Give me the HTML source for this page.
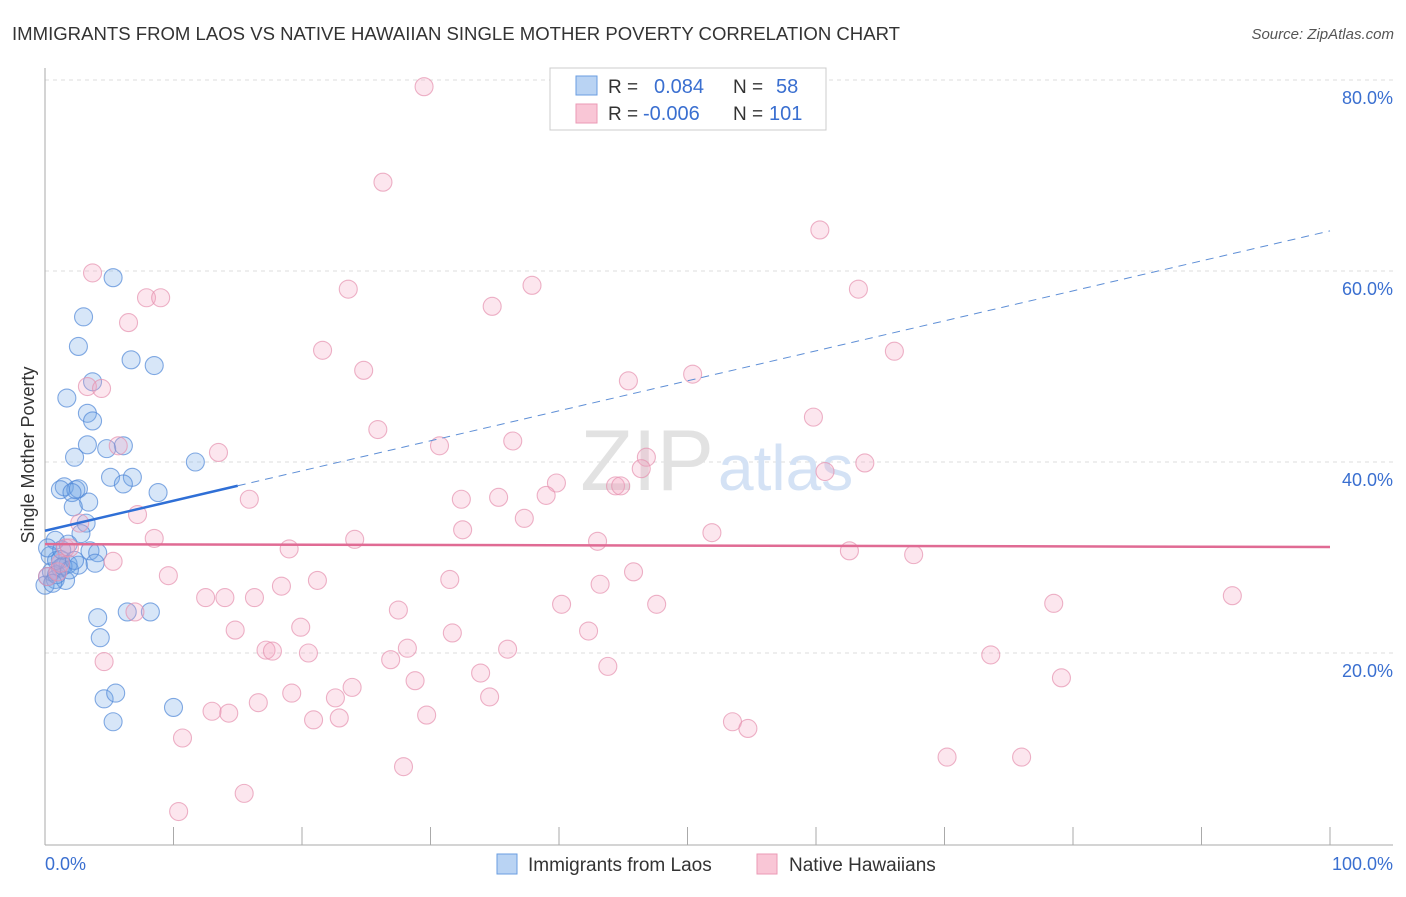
<!DOCTYPE html>
<html><head><meta charset="utf-8"><style>
body{margin:0;background:#fff;font-family:"Liberation Sans",sans-serif;}
svg text{font-family:"Liberation Sans",sans-serif;}
</style></head><body>
<svg width="1406" height="892" viewBox="0 0 1406 892">
<text x="12" y="40" font-size="18" fill="#333" textLength="888" lengthAdjust="spacingAndGlyphs">IMMIGRANTS FROM LAOS VS NATIVE HAWAIIAN SINGLE MOTHER POVERTY CORRELATION CHART</text>
<text x="1394" y="39" font-size="15" fill="#555" font-style="italic" text-anchor="end">Source: ZipAtlas.com</text>
<g id="grid"></g>
<text x="714" y="490" font-size="86" fill="#e2e2e2" text-anchor="end" font-family="Liberation Serif">ZIP</text>
<text x="718" y="490" font-size="64" fill="#d4e2f5">atlas</text>
<line x1="45" y1="68" x2="45" y2="845" stroke="#aaa"/>
<line x1="45" y1="845" x2="1393" y2="845" stroke="#aaa"/>
<g id="ticks"></g>
<g id="pts"></g>
<g id="trends"></g>
<text transform="translate(34,455) rotate(-90)" font-size="18" fill="#333" text-anchor="middle">Single Mother Poverty</text>
<text x="45" y="870" font-size="18" fill="#3a6fd0">0.0%</text>
<text x="1393" y="870" font-size="18" fill="#3a6fd0" text-anchor="end">100.0%</text>
<g>
<rect x="550" y="68" width="276" height="62" fill="#fff" stroke="#ccc"/>
<rect x="576" y="76" width="21" height="19" fill="#b9d3f3" stroke="#6a9ee0"/>
<rect x="576" y="104" width="21" height="19" fill="#f9c6d6" stroke="#eb9ab5"/>
<text x="608" y="93" font-size="19" fill="#333">R =</text>
<text x="654" y="93" font-size="20" fill="#3a6fd0">0.084</text>
<text x="733" y="93" font-size="19" fill="#333">N =</text>
<text x="776" y="93" font-size="20" fill="#3a6fd0">58</text>
<text x="608" y="120" font-size="19" fill="#333">R =</text>
<text x="643" y="120" font-size="20" fill="#3a6fd0">-0.006</text>
<text x="733" y="120" font-size="19" fill="#333">N =</text>
<text x="769" y="120" font-size="20" fill="#3a6fd0">101</text>
</g>
<g>
<rect x="497" y="854" width="20" height="20" fill="#b9d3f3" stroke="#6a9ee0"/>
<text x="528" y="871" font-size="19" fill="#333">Immigrants from Laos</text>
<rect x="757" y="854" width="20" height="20" fill="#f9c6d6" stroke="#eb9ab5"/>
<text x="789" y="871" font-size="19" fill="#333">Native Hawaiians</text>
</g>
</svg>
<script>
const yTicks=[20,40,60,80];
const yTickLabels=["20.0%","40.0%","60.0%","80.0%"];
const xTicks=[0,10,20,30,40,50,60,70,80,90,100];
const blueX=[5.3,3.0,2.6,6.7,8.5,3.7,1.7,3.3,3.7,3.3,6.1,2.3,4.8,11.7,5.1,6.8,6.1,1.5,1.2,2.4,2.6,2.1,8.8,3.4,2.2,3.2,2.8,0.8,1.8,3.5,4.1,0.4,1.2,1.8,2.6,3.9,1.2,0.5,0.2,0.8,1.6,0.0,4.1,4.3,6.4,8.2,4.6,5.5,5.3,10.0,0.9,1.4,1.9,0.9,0.2,1.3,0.6,2.3];
const blueY=[59.3,55.2,52.1,50.7,50.1,48.4,46.7,45.1,44.3,41.8,41.7,40.5,41.4,40.0,38.4,38.4,37.7,37.4,37.1,37.1,37.2,36.8,36.8,35.8,35.3,33.6,32.5,31.8,31.4,30.7,30.5,30.2,29.8,29.3,29.2,29.4,28.9,28.5,28.0,27.7,27.6,27.1,23.7,21.6,24.3,24.3,15.2,15.8,12.8,14.3,28.2,29.1,28.7,29.7,31.0,30.8,27.3,29.7];
const pinkX=[29.5,26.3,60.3,3.7,37.9,7.9,9.0,23.6,34.8,63.3,6.5,21.6,66.1,24.8,50.4,45.4,3.3,4.4,59.8,25.9,36.4,30.7,5.7,13.5,46.8,46.4,63.8,60.7,39.8,44.4,44.8,15.9,32.4,35.3,39.0,7.2,37.3,32.5,2.7,51.9,8.5,24.1,43.0,62.6,67.6,19.0,1.6,5.3,9.6,31.5,45.8,21.2,18.4,43.2,12.5,14.0,16.3,27.5,40.2,47.6,78.5,92.4,7.0,14.8,19.9,31.7,42.3,17.2,17.7,20.5,28.2,36.0,26.9,4.6,73.6,43.8,33.9,28.8,79.1,23.9,19.2,16.6,22.6,34.6,13.0,14.3,20.9,22.9,29.7,53.5,54.7,10.7,70.2,76.0,27.9,15.5,10.4,0.2,1.0,1.9,1.2];
const pinkY=[79.3,69.3,64.3,59.8,58.5,57.2,57.2,58.1,56.3,58.1,54.6,51.7,51.6,49.6,49.2,48.5,47.9,47.7,44.7,43.4,42.2,41.7,41.7,41.0,40.5,39.3,39.9,39.0,37.8,37.5,37.5,36.1,36.1,36.3,36.5,34.5,34.1,32.9,33.6,32.6,32.0,31.9,31.7,30.7,30.3,30.9,31.0,29.6,28.1,27.7,28.5,27.6,27.0,27.2,25.8,25.8,25.8,24.5,25.1,25.1,25.2,26.0,24.3,22.4,22.7,22.1,22.3,20.3,20.2,20.0,20.5,20.4,19.3,19.1,19.8,18.6,17.9,17.1,17.4,16.4,15.8,14.8,15.3,15.4,13.9,13.7,13.0,13.2,13.5,12.8,12.1,11.1,9.1,9.1,8.1,5.3,3.4,28.0,28.5,31.0,29.4];
const blueTrend=[32.8,64.2];
const blueSolidEnd=15;
const pinkTrend=[31.4,31.1];
const NS="http://www.w3.org/2000/svg";
const xs=v=>45+v*12.85;
const ys=v=>844-v*9.55;
function mk(tag,attrs,parent){const e=document.createElementNS(NS,tag);for(const k in attrs)e.setAttribute(k,attrs[k]);parent.appendChild(e);return e;}
const grid=document.getElementById('grid');
yTicks.forEach((t,i)=>{
  const l=mk('line',{x1:45,x2:1393,y1:ys(t),y2:ys(t),stroke:'#ddd','stroke-dasharray':'4,4'},grid);
  
  
  const tx=mk('text',{x:1393,y:ys(t)+24,'font-size':18,fill:'#3a6fd0','text-anchor':'end'},grid);
  tx.textContent=yTickLabels[i];
  
  
});
const tk=document.getElementById('ticks');
xTicks.forEach(t=>{
  const l=mk('line',{x1:xs(t),x2:xs(t),y1:827,y2:845,stroke:'#aaa'},tk);
  
  
});
const pts=document.getElementById('pts');
blueX.forEach((x,i)=>{
  const c=mk('circle',{cx:xs(x),cy:ys(blueY[i]),r:9,fill:'rgba(110,165,230,0.28)',stroke:'rgba(80,135,215,0.7)','stroke-width':1.1},pts);
  
  
});
pinkX.forEach((x,i)=>{
  const c=mk('circle',{cx:xs(x),cy:ys(pinkY[i]),r:9,fill:'rgba(245,165,195,0.28)',stroke:'rgba(230,145,175,0.7)','stroke-width':1.1},pts);
  
  
});
const tr=document.getElementById('trends');
const by=x=>blueTrend[0]+(blueTrend[1]-blueTrend[0])*x/100;
const b1=mk('line',{x1:xs(0),y1:ys(by(0)),x2:xs(blueSolidEnd),y2:ys(by(blueSolidEnd)),stroke:'#2f6fd6','stroke-width':2.5},tr);


const b2=mk('line',{x1:xs(blueSolidEnd),y1:ys(by(blueSolidEnd)),x2:xs(100),y2:ys(by(100)),stroke:'#5f8fd6','stroke-width':1,'stroke-dasharray':'8,6'},tr);


const p1=mk('line',{x1:xs(0),y1:ys(pinkTrend[0]),x2:xs(100),y2:ys(pinkTrend[1]),stroke:'#e06b94','stroke-width':2.5},tr);


</script>
</body></html>
